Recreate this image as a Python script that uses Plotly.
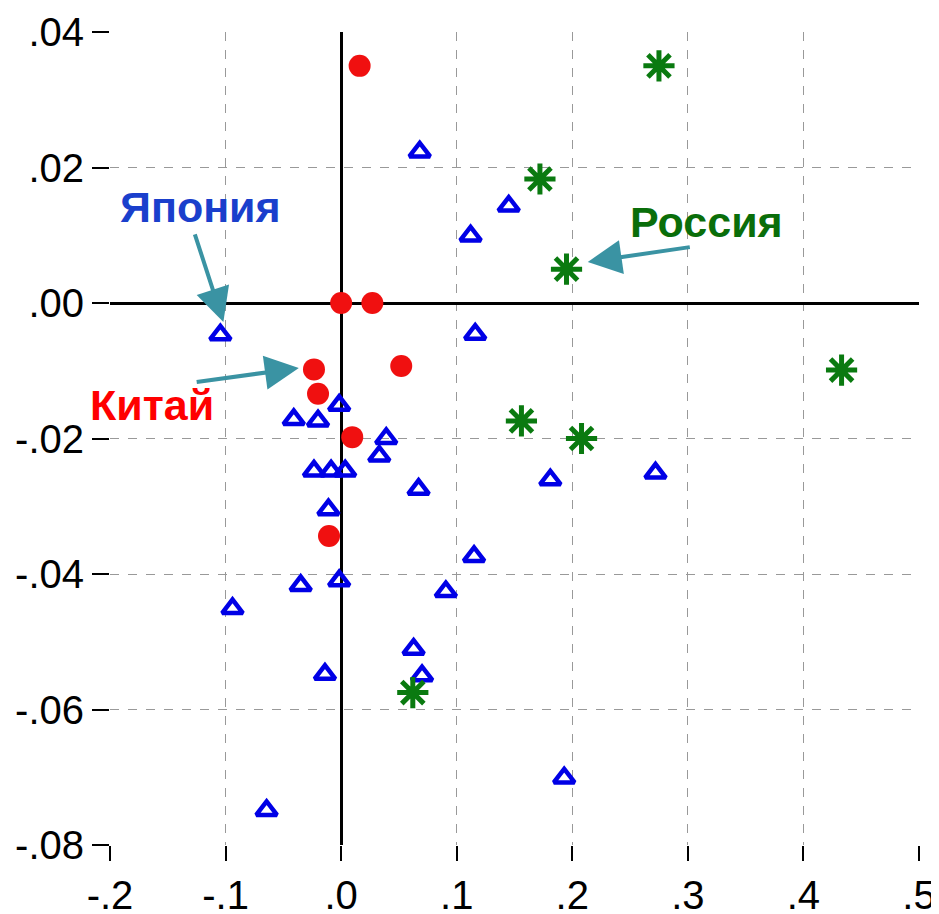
import plotly.graph_objects as go

# ---- data ----
china_x = [0.016, 0.0, 0.027, 0.052, -0.0235, -0.020, 0.0096, -0.0105]
china_y = [0.035, 0.0, 0.0, -0.0093, -0.0098, -0.0134, -0.0198, -0.0344]

japan_x = [0.068, 0.145, 0.112, 0.116, -0.1045, -0.041, -0.020, -0.0017, 0.039,
           0.033, -0.0235, -0.0087, 0.0035, -0.011, 0.067, 0.115, 0.181, 0.272,
           -0.035, -0.0017, 0.0906, -0.094, 0.0627, 0.070, -0.014, 0.193, -0.0645]
japan_y = [0.0223, 0.0143, 0.0099, -0.0046, -0.0047, -0.0172, -0.0174, -0.0151, -0.0200,
           -0.0226, -0.0248, -0.0248, -0.0248, -0.0305, -0.0275, -0.0374, -0.0261, -0.0251,
           -0.0417, -0.0410, -0.0426, -0.0451, -0.0511, -0.0550, -0.0548, -0.0701, -0.0749]

russia_x = [0.275, 0.172, 0.195, 0.433, 0.156, 0.208, 0.062]
russia_y = [0.035, 0.0183, 0.0050, -0.0099, -0.0174, -0.0200, -0.0575]

x_tickvals = [-0.2, -0.1, 0.0, 0.1, 0.2, 0.3, 0.4, 0.5]
x_ticktext = ["-.2", "-.1", ".0", ".1", ".2", ".3", ".4", ".5"]
y_tickvals = [0.04, 0.02, 0.0, -0.02, -0.04, -0.06, -0.08]
y_ticktext = [".04", ".02", ".00", "-.02", "-.04", "-.06", "-.08"]

# labels: (text, x, y, colour) and arrows: (tip x, tip y, tail x, tail y)
label_text = ["Япония", "Китай", "Россия"]
label_x = [-0.122, -0.164, 0.316]
label_y = [0.0142, -0.0150, 0.0120]
label_color = ["#1a3fcc", "#ff0000", "#0a6e0a"]
arrow_tip_x = [-0.1019, -0.0366, 0.2134]
arrow_tip_y = [-0.0028, -0.0096, 0.00606]
arrow_tail_x = [-0.127, -0.1263, 0.303]
arrow_tail_y = [0.01035, -0.01168, 0.00828]

FONT = "Liberation Sans, Arial, sans-serif"
ARROW = "#3a93a3"

fig = go.Figure()

fig.add_trace(go.Scatter(
    x=china_x, y=china_y, mode="markers", name="Китай",
    marker=dict(symbol="circle", size=22, color="#f01010", line=dict(width=0)),
))
fig.add_trace(go.Scatter(
    x=japan_x, y=japan_y, mode="markers", name="Япония",
    marker=dict(symbol="triangle-up-open", size=18, color="#0000e6",
                line=dict(width=4.5, color="#0000e6")),
))
fig.add_trace(go.Scatter(
    x=russia_x, y=russia_y, mode="markers", name="Россия",
    marker=dict(symbol="asterisk-open", size=26, color="#0a7a10",
                line=dict(width=5, color="#0a7a10")),
))

for t, lx, ly, c in zip(label_text, label_x, label_y, label_color):
    fig.add_annotation(x=lx, y=ly, xref="x", yref="y", text="<b>%s</b>" % t,
                       showarrow=False, font=dict(family=FONT, size=43, color=c))

for tx, ty, sx, sy in zip(arrow_tip_x, arrow_tip_y, arrow_tail_x, arrow_tail_y):
    fig.add_annotation(x=tx, y=ty, xref="x", yref="y", ax=sx, ay=sy,
                       axref="x", ayref="y", text="", showarrow=True,
                       arrowhead=2, arrowsize=1.7, arrowwidth=4,
                       arrowcolor=ARROW, standoff=0, startstandoff=0)

# page body adds an 8px offset; figure sized so the plot lands where the reference has it
fig.update_layout(
    width=931, height=906,
    margin=dict(l=102, r=20, t=24, b=69),
    paper_bgcolor="white", plot_bgcolor="white",
    showlegend=False,
    font=dict(family=FONT, size=40, color="black"),
)
fig.update_xaxes(
    range=[-0.2, 0.5], tickmode="array", tickvals=x_tickvals, ticktext=x_ticktext,
    showgrid=True, gridcolor="#999999", griddash="dash", gridwidth=1,
    zeroline=True, zerolinecolor="black", zerolinewidth=3,
    showline=False, ticks="outside", ticklen=15, tickwidth=2, tickcolor="black",
    tickfont=dict(family=FONT, size=40, color="black"), automargin=False,
)
fig.update_yaxes(
    range=[-0.08, 0.04], tickmode="array", tickvals=y_tickvals, ticktext=y_ticktext,
    showgrid=True, gridcolor="#999999", griddash="dash", gridwidth=1,
    zeroline=True, zerolinecolor="black", zerolinewidth=3,
    showline=False, ticks="outside", ticklen=17, tickwidth=2, tickcolor="black",
    tickfont=dict(family=FONT, size=40, color="black"), automargin=False,
)

fig.write_html("out.html")
